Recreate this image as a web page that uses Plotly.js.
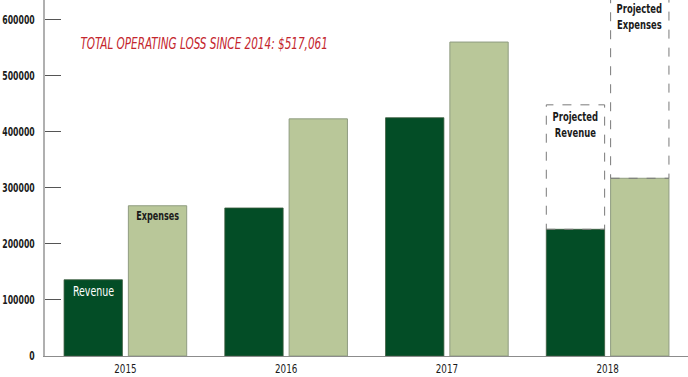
<!DOCTYPE html>
<html>
<head>
<meta charset="utf-8">
<script src="https://cdn.plot.ly/plotly-3.0.1.min.js"></script>
<style>html,body{margin:0;padding:0;background:#fff;}#chart{width:688px;height:377px;}</style>
</head>
<body>
<div id="chart"></div>
<script>
var years = ["2015", "2016", "2017", "2018"];
var revenue = [136000, 264000, 425000, 226000];
var expenses = [268000, 423000, 560000, 317000];
var projectedYear = "2018";
var projectedRevenue = 448000;
var projectedExpenses = 650000;
var yTicks = [0, 100000, 200000, 300000, 400000, 500000, 600000];
var titleText = "TOTAL OPERATING LOSS SINCE 2014: $517,061";

var FONT = "DejaVu Sans Condensed, DejaVu Sans, sans-serif";
var SQUEEZE = 0.75;
var bargap = 0.2, bargroupgap = 0.093;
var slot = (1 - bargap) / 2;
function barEdges(idx, which) {
  if (which === 0) return [idx - slot + slot * bargroupgap / 2, idx - slot * bargroupgap / 2];
  return [idx + slot * bargroupgap / 2, idx + slot - slot * bargroupgap / 2];
}
function mid(e) { return (e[0] + e[1]) / 2; }
var pIdx = years.indexOf(projectedYear);
var revEdges = barEdges(pIdx, 0), expEdges = barEdges(pIdx, 1);

var traces = [
  {type: "bar", x: years, y: revenue, name: "Revenue",
   marker: {color: "#034d26", line: {color: "#3b5a3e", width: 0.8}}, hoverinfo: "x+y"},
  {type: "bar", x: years, y: expenses, name: "Expenses",
   marker: {color: "#b9c799", line: {color: "#8f9c80", width: 1}}, hoverinfo: "x+y"}
];

var dash = {color: "#7a7a7a", width: 1, dash: "dash"};
var shapes = [
  {type: "rect", xref: "x", yref: "y", x0: revEdges[0], x1: revEdges[1],
   y0: revenue[pIdx], y1: projectedRevenue, line: dash, fillcolor: "rgba(0,0,0,0)", layer: "above"},
  {type: "rect", xref: "x", yref: "y", x0: expEdges[0], x1: expEdges[1],
   y0: expenses[pIdx], y1: projectedExpenses, line: dash, fillcolor: "rgba(0,0,0,0)", layer: "above"}
];

var lblFont = {family: FONT, size: 12.5, color: "#1a1a1a", weight: "bold"};
var annotations = [
  {xref: "paper", yref: "paper", x: 0.2473, y: 0.876, xanchor: "center", yanchor: "middle",
   text: "<i>" + titleText + "</i>", showarrow: false,
   font: {family: FONT, size: 15.5, color: "#c4262e"}},
  {xref: "x", yref: "y", x: mid(barEdges(0, 0)), y: revenue[0],
   yanchor: "top", yshift: -1, text: "Revenue", showarrow: false,
   font: {family: FONT, size: 14, color: "#ffffff"}},
  {xref: "x", yref: "y", x: mid(barEdges(0, 1)), y: expenses[0],
   yanchor: "top", yshift: -1, text: "Expenses", showarrow: false,
   font: {family: FONT, size: 12, color: "#1a1a1a", weight: "bold"}},
  {xref: "x", yref: "y", x: mid(revEdges), y: projectedRevenue,
   yanchor: "top", yshift: -2, text: "Projected<br>Revenue", showarrow: false, font: lblFont},
  {xref: "x", yref: "paper", x: mid(expEdges), y: 1,
   yanchor: "top", yshift: 1, text: "Projected<br>Expenses", showarrow: false, font: lblFont}
];

var layout = {
  width: 688, height: 377,
  margin: {l: 45, r: 0, t: 0, b: 21, pad: 0},
  paper_bgcolor: "#ffffff", plot_bgcolor: "#ffffff",
  showlegend: false,
  barmode: "group", bargap: bargap, bargroupgap: bargroupgap,
  xaxis: {type: "category", range: [-0.5, 3.5], showline: true, linecolor: "#8c8c8c", linewidth: 1,
          ticks: "", showgrid: false, zeroline: false,
          tickfont: {family: FONT, size: 13, color: "#1a1a1a"}},
  yaxis: {range: [0, 635000], tickvals: yTicks, ticktext: yTicks.map(String),
          showline: true, linecolor: "#b0b0b0", linewidth: 2,
          ticks: "inside", ticklen: 16, tickcolor: "#555555", tickwidth: 1,
          ticklabelstandoff: 6,
          showgrid: false, zeroline: false,
          tickfont: {family: FONT, size: 11.5, color: "#1a1a1a", weight: "bold"}},
  shapes: shapes,
  annotations: annotations,
  font: {family: FONT}
};

// Narrow the glyphs horizontally to imitate the condensed typeface of the original
function squeezeTexts(gd) {
  gd.querySelectorAll("text").forEach(function (t) {
    var tr = t.getAttribute("transform") || "";
    if (tr.indexOf("scale(") !== -1) return;
    var bb = t.getBBox();
    if (!bb.width) return;
    var anchor = t.getAttribute("text-anchor") || "start";
    var cx = anchor === "end" ? bb.x + bb.width : anchor === "middle" ? bb.x + bb.width / 2 : bb.x;
    t.setAttribute("transform", tr + " translate(" + cx + ",0) scale(" + SQUEEZE + ",1) translate(" + (-cx) + ",0)");
  });
}

Plotly.newPlot("chart", traces, layout, {displayModeBar: false, staticPlot: true}).then(function (gd) {
  squeezeTexts(gd);
  setTimeout(function () { squeezeTexts(gd); }, 30);
  setTimeout(function () { squeezeTexts(gd); }, 200);
});
</script>
</body>
</html>
